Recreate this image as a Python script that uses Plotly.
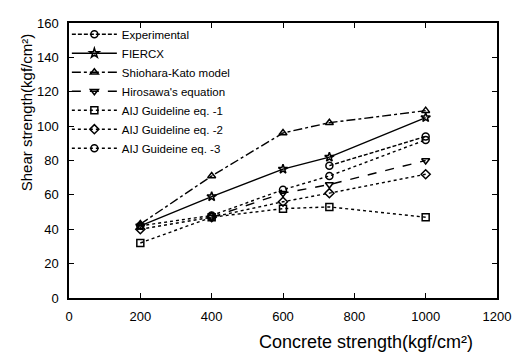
import plotly.graph_objects as go

# ---- data ----
exp_x = [730, 1000]
exp_y = [77, 94]
fiercx_x = [200, 400, 600, 730, 1000]
fiercx_y = [42, 59, 75, 82, 105]
shio_x = [200, 400, 600, 730, 1000]
shio_y = [43, 71, 96, 102, 109]
hiro_x = [400, 600, 730, 1000]
hiro_y = [47, 61, 66, 80]
aij1_x = [200, 400, 600, 730, 1000]
aij1_y = [32, 47, 52, 53, 47]
aij2_x = [200, 400, 600, 730, 1000]
aij2_y = [40, 47, 56, 61, 72]
aij3_x = [200, 400, 600, 730, 1000]
aij3_y = [42, 48, 63, 71, 92]

x_ticks = [0, 200, 400, 600, 800, 1000, 1200]
y_ticks = [0, 20, 40, 60, 80, 100, 120, 140, 160]

FONT = "Liberation Sans, Arial"

series = [
    ("Experimental", exp_x, exp_y, "circle-open", "4px,2px", 1.4),
    ("FIERCX", fiercx_x, fiercx_y, "star-open", "solid", 1.4),
    ("Shiohara-Kato model", shio_x, shio_y, "triangle-up-open", "dashdot", 1.4),
    ("Hirosawa's equation", hiro_x, hiro_y, "triangle-down-open", "dash", 1.4),
    ("AIJ Guideline eq. -1", aij1_x, aij1_y, "square-open", "dot", 1.4),
    ("AIJ Guideline eq. -2", aij2_x, aij2_y, "diamond-open", "dot", 1.4),
    ("AIJ Guideine eq. -3", aij3_x, aij3_y, "circle-open", "dot", 1.4),
]

fig = go.Figure()
for name, xs, ys, sym, dash, w in series:
    fig.add_trace(go.Scatter(
        x=xs, y=ys, name=name, mode="lines+markers",
        line=dict(color="black", width=w, dash=dash),
        marker=dict(symbol=sym, size=7, color="black", line=dict(width=1.5, color="black")),
    ))

axis_common = dict(
    showline=True, linecolor="black", linewidth=1.5, mirror="ticks",
    ticks="inside", ticklen=5, tickwidth=1.2, tickcolor="black",
    showgrid=False, zeroline=False, ticklabelstandoff=6,
    tickfont=dict(family=FONT, size=13, color="black"),
)
fig.update_xaxes(range=[0, 1200], tickvals=x_ticks, **axis_common)
fig.update_yaxes(range=[0, 160], tickvals=y_ticks, **axis_common)

fig.update_layout(
    width=523, height=360,
    margin=dict(l=69, r=26, t=23, b=62),
    paper_bgcolor="white", plot_bgcolor="white",
    font=dict(family=FONT, size=12, color="black"),
    legend=dict(x=-0.005, y=1.012, xanchor="left", yanchor="top",
                bgcolor="rgba(0,0,0,0)", font=dict(family=FONT, size=11.5),
                itemwidth=45),
    showlegend=True,
    annotations=[
        dict(text="Concrete strength(kgf/cm²)", xref="paper", yref="paper",
             x=0.694, y=-0.16, xanchor="center", yanchor="middle", showarrow=False,
             font=dict(family=FONT, size=18)),
        dict(text="Shear strength(kgf/cm²)", xref="paper", yref="paper",
             x=-0.1, y=0.676, xanchor="center", yanchor="middle", textangle=-90,
             showarrow=False, font=dict(family=FONT, size=15)),
    ],
)

fig.write_html("out.html", config={"displayModeBar": False},
               post_script="document.body.style.margin='0';")
